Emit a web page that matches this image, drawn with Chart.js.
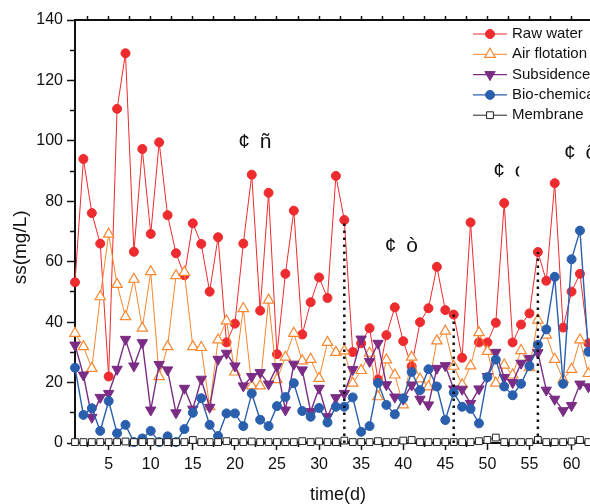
<!DOCTYPE html>
<html>

<head>
    <meta charset="utf-8">
    <title>SS removal over time</title>
    <script src="https://cdn.jsdelivr.net/npm/chart.js"></script>
</head>

<body>
    <style>
        body {
            background-color: #FFF;
            margin: 0;
            padding: 0;
            overflow: hidden;
        }

        #chart {
            display: block;
        }
    </style>

    <canvas id="chart" width="620" height="504"></canvas>

    <script>
        // sampling days
        const days = [1, 2, 3, 4, 5, 6, 7, 8, 9, 10, 11, 12, 13, 14, 15, 16, 17, 18, 19, 20,
            21, 22, 23, 24, 25, 26, 27, 28, 29, 30, 31, 32, 33, 34, 35, 36, 37, 38, 39, 40,
            41, 42, 43, 44, 45, 46, 47, 48, 49, 50, 51, 52, 53, 54, 55, 56, 57, 58, 59, 60, 61, 62];

        // ss (mg/L) per stage
        const rawWater = [53.2, 94, 76.1, 66, 22, 110.6, 129, 63.3, 97.3, 69.2,
            99.5, 75.4, 62.8, 55.5, 72.7, 65.9, 50.1, 68.1, 33.3, 39.5,
            66, 88.8, 43.8, 82.8, 29.4, 56, 76.9, 35.9, 46.6, 54.8,
            48, 88.4, 73.8, 30.1, 33, 38, 21, 35.7, 44.9, 33.7,
            25.4, 40, 44.6, 58.3, 44, 42.5, 28.2, 73, 33.3, 33.3,
            39.8, 79.4, 33.3, 39.2, 42.9, 63.2, 53.7, 86, 38.2, 50.1, 56, 33];
        const airFlotation = [36.3, 31.9, 24.7, 48.4, 69.1, 52.5, 41.8, 54.2, 38, 56.7,
            22, 31.9, 55.4, 56.5, 31.9, 31.6, 12, 34.1, 40.4, 23.5,
            44.5, 18.9, 18.9, 47.3, 21, 28.4, 36.3, 27.2, 27.7, 21.4,
            33.3, 30, 30.5, 19.8, 24, 29.7, 15.3, 27.5, 22.5, 12.6,
            28.4, 21.2, 18.6, 33.8, 37, 25.4, 19.3, 25.5, 36.5, 30.3,
            19.8, 25.8, 22.5, 30.6, 24.9, 40.7, 35.7, 27.7, 21, 24.4, 34.1, 23];
        const subsidence = [32.4, 22.5, 8.5, 15.1, 16.4, 24.4, 34.3, 25.5, 33.2, 10.9,
            26, 24.2, 10, 18.1, 11.2, 21.1, 11.8, 27.7, 29.7, 25.5,
            18.9, 22, 23.3, 19.5, 25.3, 10.9, 26.1, 24.2, 10.4, 18.1,
            8.7, 15, 16.4, 24.3, 34.4, 27, 33, 19.3, 15.2, 14.5,
            19.2, 14.5, 12.6, 24.7, 25.6, 17.9, 17.8, 13.1, 17.9, 22,
            30, 21.7, 20, 26.4, 28, 29.9, 17.5, 14.5, 10.7, 12.4, 19.5, 18.6];
        const bioChemical = [24.9, 9.3, 11.5, 4, 13.9, 3.2, 6, 0.3, 1.5, 4,
            0.3, 2.2, 0.3, 4.6, 10, 14.8, 6, 2.3, 9.8, 9.8,
            5.6, 16.4, 7.7, 5.6, 12.2, 15.2, 19.8, 10.6, 8.7, 11.6,
            6.8, 12, 12, 15.1, 3.7, 5.6, 19.9, 12.6, 9.5, 14.8,
            23.5, 17.5, 24.4, 18.7, 7.6, 16.7, 12, 11.3, 6.5, 21.8,
            27.6, 18.7, 15.8, 19.6, 25.5, 32.5, 37.6, 55, 19.6, 60.8, 70.3, 30.2];
        const membrane = [0.3, 0.3, 0.3, 0.3, 0.3, 0.3, 0.5, 0.3, 0.3, 0.3,
            0.3, 0.3, 0.3, 0.3, 1.0, 0.3, 0.3, 0.3, 0.6, 0.3,
            0.3, 0.5, 0.3, 0.3, 0.3, 0.3, 0.3, 0.6, 0.3, 0.5,
            0.3, 0.3, 0.8, 0.3, 0.3, 0.3, 0.6, 0.3, 0.3, 0.8,
            1.0, 0.3, 0.3, 0.3, 0.3, 0.3, 0.3, 0.3, 0.6, 1.0,
            1.8, 0.3, 0.3, 0.3, 0.3, 1.0, 0.3, 0.3, 0.3, 0.5, 1.0, 0.3];

        const seriesNames = ['Raw water', 'Air flotation', 'Subsidence', 'Bio-chemical', 'Membrane'];

        // axis ticks
        const xTicks = [5, 10, 15, 20, 25, 30, 35, 40, 45, 50, 55, 60];
        const xMinorTicks = [2.5, 7.5, 12.5, 17.5, 22.5, 27.5, 32.5, 37.5, 42.5, 47.5, 52.5, 57.5, 62.5];
        const yTicks = [0, 20, 40, 60, 80, 100, 120, 140];
        const yMinorTicks = [10, 30, 50, 70, 90, 110, 130];

        // stage boundaries (dotted lines drop from the raw water point)
        const markerDays = [33, 46, 56];

        // period labels, garbled as in the source figure
        const notes = ['¢ ñ', '¢ ò', '¢ ó', '¢ ô'];
        const noteDays = [20.4, 37.8, 50.7, 59.1];
        const noteValues = [99.6, 65, 89.8, 95.9];

        Chart.defaults.font.family = '"Liberation Sans", Arial, sans-serif';
        Chart.defaults.color = '#111';

        const pts = vals => days.map((d, i) => ({ x: d, y: vals[i] }));

        const series = [
            { label: seriesNames[0], data: pts(rawWater), borderColor: '#ee2b2e', borderWidth: 1,
              pointStyle: 'circle', pointRadius: 4.5, pointBackgroundColor: '#ee2b2e', pointBorderColor: '#ee2b2e', pointBorderWidth: 1, order: 5 },
            { label: seriesNames[1], data: pts(airFlotation), borderColor: '#f7862f', borderWidth: 1,
              pointStyle: 'triangle', pointRadius: 6, pointBackgroundColor: '#FFF', pointBorderColor: '#f7862f', pointBorderWidth: 1.2, order: 4 },
            { label: seriesNames[2], data: pts(subsidence), borderColor: '#7b2c84', borderWidth: 1.4,
              pointStyle: 'triangle', pointRotation: 180, pointRadius: 6, pointBackgroundColor: '#7b2c84', pointBorderColor: '#7b2c84', pointBorderWidth: 1, order: 3 },
            { label: seriesNames[3], data: pts(bioChemical), borderColor: '#2a5fae', borderWidth: 1.4,
              pointStyle: 'circle', pointRadius: 4.5, pointBackgroundColor: '#2a5fae', pointBorderColor: '#2a5fae', pointBorderWidth: 1, order: 2 },
            { label: seriesNames[4], data: pts(membrane), borderColor: '#222', borderWidth: 1,
              pointStyle: 'rect', pointRadius: 4.8, pointBackgroundColor: '#FFF', pointBorderColor: '#222', pointBorderWidth: 1, order: 1 }
        ];

        const dropLines = markerDays.map(d => ({
            data: [{ x: d, y: 0 }, { x: d, y: rawWater[days.indexOf(d)] }],
            borderColor: '#111', borderWidth: 2.5, borderDash: [2.5, 4.5], pointRadius: 0, order: 0
        }));

        const fixTicks = list => scale => { scale.ticks = list.map(v => ({ value: v })); };

        // legend drawn inside the frame, top right
        const boxLegend = {
            id: 'boxLegend',
            afterDraw(chart) {
                const ctx = chart.ctx;
                const area = chart.chartArea;
                const x0 = area.right - 128;
                let y = area.top + 14;
                ctx.save();
                series.forEach(ds => {
                    ctx.strokeStyle = ds.borderColor;
                    ctx.lineWidth = ds.borderWidth;
                    ctx.beginPath();
                    ctx.moveTo(x0, y);
                    ctx.lineTo(x0 + 34, y);
                    ctx.stroke();
                    ctx.fillStyle = ds.pointBackgroundColor;
                    ctx.strokeStyle = ds.pointBorderColor;
                    ctx.lineWidth = ds.pointBorderWidth;
                    Chart.helpers.drawPoint(ctx, {
                        pointStyle: ds.pointStyle, radius: ds.pointRadius,
                        rotation: ds.pointRotation || 0, borderWidth: ds.pointBorderWidth
                    }, x0 + 17, y);
                    ctx.fillStyle = '#111';
                    ctx.font = '15px "Liberation Sans", Arial, sans-serif';
                    ctx.textBaseline = 'middle';
                    ctx.textAlign = 'left';
                    ctx.fillText(ds.label, x0 + 39, y);
                    y += 20.3;
                });
                ctx.restore();
            }
        };

        const periodNotes = {
            id: 'periodNotes',
            afterDraw(chart) {
                const ctx = chart.ctx;
                const xs = chart.scales.x, ys = chart.scales.y;
                ctx.save();
                ctx.font = '21px "Liberation Sans", Arial, sans-serif';
                if ('letterSpacing' in ctx) ctx.letterSpacing = '2px';
                ctx.fillStyle = '#111';
                ctx.textBaseline = 'middle';
                ctx.textAlign = 'left';
                notes.forEach((t, i) => {
                    const px = xs.getPixelForValue(noteDays[i]);
                    const py = ys.getPixelForValue(noteValues[i]);
                    ctx.save();
                    if (i === 2) { // third label is cut off in the original
                        ctx.beginPath();
                        ctx.rect(px - 4, py - 20, 30, 40);
                        ctx.clip();
                    }
                    ctx.fillText(t, px, py);
                    ctx.restore();
                });
                ctx.restore();
            }
        };

        const axisLine = { display: true, color: '#111', width: 2 };
        const noGrid = { drawOnChartArea: false, color: '#111', tickColor: '#111', tickWidth: 1.5 };

        new Chart(document.getElementById('chart').getContext('2d'), {
            type: 'line',
            data: { datasets: [...series, ...dropLines] },
            options: {
                responsive: false,
                animation: false,
                clip: false,
                layout: { padding: { left: 0, top: 0, bottom: 0, right: 19 } },
                elements: { line: { tension: 0 } },
                plugins: { legend: { display: false }, tooltip: { enabled: false } },
                scales: {
                    x: {
                        type: 'linear', axis: 'x', position: 'bottom', weight: 2, min: 1, max: 63.5,
                        afterBuildTicks: fixTicks(xTicks),
                        afterFit: s => { s.height = 61; },
                        ticks: { font: { size: 16 }, padding: 5, maxRotation: 0 },
                        grid: { ...noGrid, tickLength: 7 },
                        border: axisLine,
                        title: { display: true, text: 'time(d)', font: { size: 18, lineHeight: 1 }, padding: 0 }
                    },
                    xMinor: {
                        type: 'linear', axis: 'x', position: 'bottom', weight: 1, min: 1, max: 63.5,
                        afterBuildTicks: fixTicks(xMinorTicks),
                        afterFit: s => { s.height = 0; },
                        ticks: { display: false },
                        grid: { ...noGrid, tickLength: 4 },
                        border: { display: false }
                    },
                    xTop: {
                        type: 'linear', axis: 'x', position: 'top', min: 1, max: 63.5,
                        afterBuildTicks: fixTicks([...xTicks, ...xMinorTicks]),
                        afterFit: s => { s.height = 20; },
                        ticks: { display: false },
                        grid: { ...noGrid, tickLength: 4 },
                        border: axisLine
                    },
                    y: {
                        type: 'linear', axis: 'y', position: 'left', weight: 2, min: 0, max: 140,
                        afterBuildTicks: fixTicks(yTicks),
                        afterFit: s => { s.width = 75; },
                        ticks: { font: { size: 16 }, padding: 4 },
                        grid: { ...noGrid, tickLength: 8 },
                        border: axisLine,
                        title: { display: true, text: 'ss(mg/L)      ', font: { size: 19, lineHeight: 1 }, padding: { top: 11 } }
                    },
                    yMinor: {
                        type: 'linear', axis: 'y', position: 'left', weight: 1, min: 0, max: 140,
                        afterBuildTicks: fixTicks(yMinorTicks),
                        afterFit: s => { s.width = 0; },
                        ticks: { display: false },
                        grid: { ...noGrid, tickLength: 5 },
                        border: { display: false }
                    }
                }
            },
            plugins: [boxLegend, periodNotes]
        });
    </script>
</body>

</html>
